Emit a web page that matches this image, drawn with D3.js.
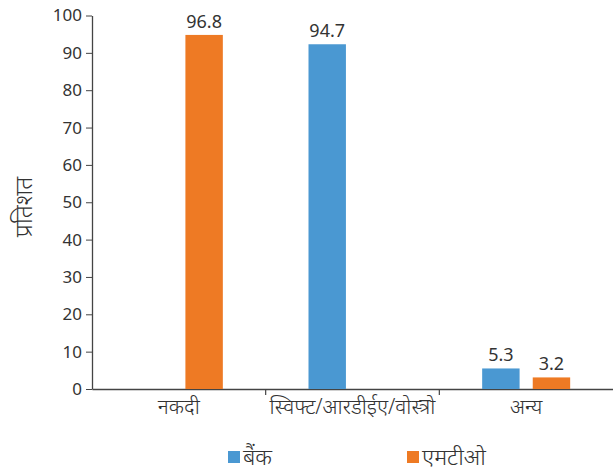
<!DOCTYPE html>
<html><head><meta charset="utf-8">
<script src="https://cdn.jsdelivr.net/npm/d3@7"></script>
<style>body{margin:0;background:#fff}svg{display:block}text{font-family:"Noto Sans",sans-serif;fill:#333}.hi{font-weight:300}</style>
</head><body><svg id="c" width="613" height="473"></svg>
<script>
const categories = ["नकदी", "स्विफ्ट/आरडीईए/वोस्त्रो", "अन्य"];
const seriesNames = ["बैंक", "एमटीओ"];
const colors = ["#4a98d2", "#ee7a24"];
// bar heights as drawn (null = no bar)
const bankValues = [null, 92.3, 5.5];
const mtoValues = [94.8, null, 3.1];
// printed value labels
const bankLabels = [null, "94.7", "5.3"];
const mtoLabels = ["96.8", null, "3.2"];
const yTicks = [0,10,20,30,40,50,60,70,80,90,100];

const svg = d3.select("#c");
const m = {l:92, r:613, t:15.5, b:389};
const x0 = d3.scaleBand().domain(categories).range([m.l, m.r]);
const x1 = d3.scaleBand().domain(seriesNames).range([0, 88]).paddingInner(0.26);
const y = d3.scaleLinear().domain([0,100]).range([m.b, m.t]);

// y axis
const ya = svg.append("g").attr("transform",`translate(${m.l},0)`)
  .call(d3.axisLeft(y).tickValues(yTicks).tickSize(6).tickSizeOuter(0));
ya.select(".domain").attr("stroke","#444").attr("stroke-width",1.3);
ya.selectAll(".tick line").attr("stroke","#444");
ya.selectAll(".tick text").attr("font-size",17).attr("fill","#333").attr("x",-10);

// x axis
const xa = svg.append("g").attr("transform",`translate(0,${m.b})`)
  .call(d3.axisBottom(x0).tickSize(0).tickSizeOuter(0));
xa.select(".domain").attr("stroke","#444").attr("stroke-width",1.3);
xa.selectAll(".tick text").attr("class","hi").attr("font-size",21).attr("fill","#333").attr("dy","0.9em").attr("y",6);
// category separators
categories.forEach((c,i)=>{
  if(i===0) return;
  svg.append("line").attr("x1",x0(c)).attr("x2",x0(c)).attr("y1",m.b).attr("y2",m.b+6)
    .attr("stroke","#444").attr("stroke-width",1.2);
});

const series = [bankValues, mtoValues];
const labels = [bankLabels, mtoLabels];
categories.forEach((c,i)=>{
  const gx = x0(c) + x0.bandwidth()/2 - 44;
  seriesNames.forEach((s,j)=>{
    const v = series[j][i];
    if(v==null) return;
    const bx = gx + x1(s);
    svg.append("rect").attr("x",bx).attr("width",x1.bandwidth())
      .attr("y",y(v)).attr("height",y(0)-y(v)).attr("fill",colors[j]);
    svg.append("text").attr("x",bx + x1.bandwidth()/2).attr("y",y(v)-7)
      .attr("text-anchor","middle").attr("font-size",18).text(labels[j][i]);
  });
});

// y title
svg.append("text").attr("class","hi").attr("transform","translate(32,207) rotate(-90)")
  .attr("text-anchor","middle").attr("font-size",24).text("प्रतिशत");

// legend
const legX = [228, 407];
seriesNames.forEach((s,j)=>{
  svg.append("rect").attr("x",legX[j]).attr("y",451).attr("width",12).attr("height",12).attr("fill",colors[j]);
  svg.append("text").attr("class","hi").attr("x",legX[j]+15).attr("y",465).attr("font-size",23).text(s);
});
</script></body></html>
